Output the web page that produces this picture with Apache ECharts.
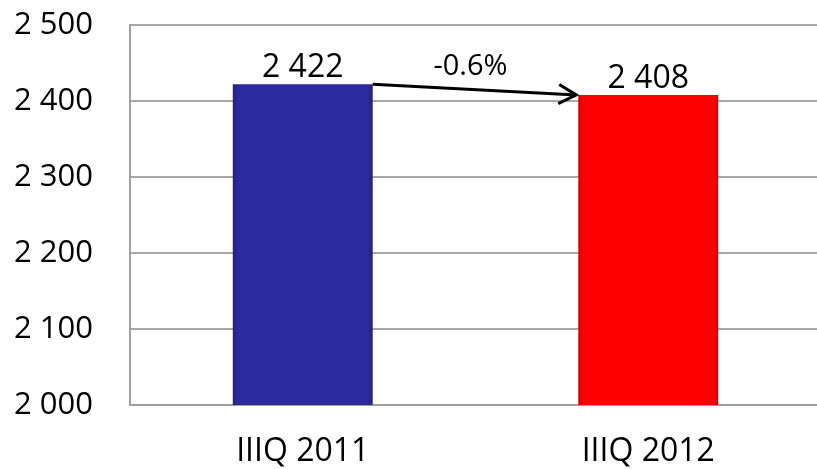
<!DOCTYPE html>
<html>
<head>
<meta charset="utf-8">
<script src="https://cdn.jsdelivr.net/npm/echarts@6/dist/echarts.min.js"></script>
<style>
  html, body { margin: 0; padding: 0; background: #fff; }
  #chart { width: 817px; height: 469px; }
</style>
</head>
<body>
<div id="chart"></div>
<script>
// categories and values
const categories = ['IIIQ 2011', 'IIIQ 2012'];
const values = [2422, 2408];
const barColors = ['#2d2a9f', '#ff0000'];
const changeLabel = '-0.6%';

const FONT = 'Open Sans';
const BAR_RATIO = 0.405;

// "2 500" style number
function spaced(v) {
    return String(Math.round(v)).replace(/\B(?=(\d{3})+(?!\d))/g, ' ');
}

function shade(c) {
    // slight bevel: darker at the sides
    const dark = c === '#ff0000' ? '#d40000' : '#24217f';
    return {
        type: 'linear', x: 0, y: 0, x2: 1, y2: 0,
        colorStops: [
            { offset: 0, color: dark },
            { offset: 0.04, color: c },
            { offset: 0.96, color: c },
            { offset: 1, color: dark }
        ]
    };
}

const chart = echarts.init(document.getElementById('chart'));

const option = {
    animation: false,
    grid: { left: 130, width: 691, top: 25, bottom: 64, outerBoundsMode: 'none', containLabel: false },
    xAxis: {
        type: 'category',
        data: categories,
        axisTick: { show: false },
        axisLine: { show: true, lineStyle: { color: '#a0a0a0', width: 2 } },
        axisLabel: { color: '#000', fontFamily: FONT, fontSize: 32, margin: 31 }
    },
    yAxis: {
        type: 'value',
        min: 2000, max: 2500, interval: 100,
        axisLine: { show: true, lineStyle: { color: '#a0a0a0', width: 2 } },
        axisTick: { show: false },
        splitLine: { lineStyle: { color: '#a8a8a8', width: 2 } },
        axisLabel: {
            color: '#000', fontFamily: FONT, fontSize: 31, margin: 37,
            formatter: v => spaced(v)
        }
    },
    series: [
        {
            type: 'bar',
            barWidth: (BAR_RATIO * 100) + '%',
            data: values.map((v, i) => ({
                value: v,
                itemStyle: { color: shade(barColors[i]) }
            })),
            label: {
                show: true, position: 'top', distance: 0,
                color: '#000', fontFamily: FONT, fontSize: 32,
                formatter: p => spaced(p.value)
            }
        },
        {
            // arrow from the top-right of the first bar to the top-left of the second
            type: 'custom',
            data: [[0, values[0], 1, values[1]]],
            renderItem: (params, api) => {
                const p0 = api.coord([api.value(0), api.value(1)]);
                const p1 = api.coord([api.value(2), api.value(3)]);
                const half = api.size([1, 0])[0] * BAR_RATIO / 2;
                const x0 = p0[0] + half, y0 = p0[1];
                const x1 = p1[0] - half - 2, y1 = p1[1];
                const ang = Math.atan2(y1 - y0, x1 - x0);
                const L = 20, A = 0.5;
                const h1 = [x1 - L * Math.cos(ang - A), y1 - L * Math.sin(ang - A)];
                const h2 = [x1 - L * Math.cos(ang + A), y1 - L * Math.sin(ang + A)];
                return {
                    type: 'group',
                    children: [
                        { type: 'line', shape: { x1: x0, y1: y0, x2: x1, y2: y1 },
                          style: { stroke: '#000', lineWidth: 3 } },
                        { type: 'polyline', shape: { points: [h1, [x1, y1], h2] },
                          style: { stroke: '#000', lineWidth: 3, fill: null } },
                        { type: 'text',
                          style: { text: changeLabel, x: (x0 + x1) / 2 - 4, y: Math.min(y0, y1) - 3,
                                   align: 'center', verticalAlign: 'bottom',
                                   fill: '#000', fontFamily: FONT, fontSize: 29 } }
                    ]
                };
            },
            z: 5
        }
    ]
};

chart.setOption(option);
</script>
</body>
</html>
